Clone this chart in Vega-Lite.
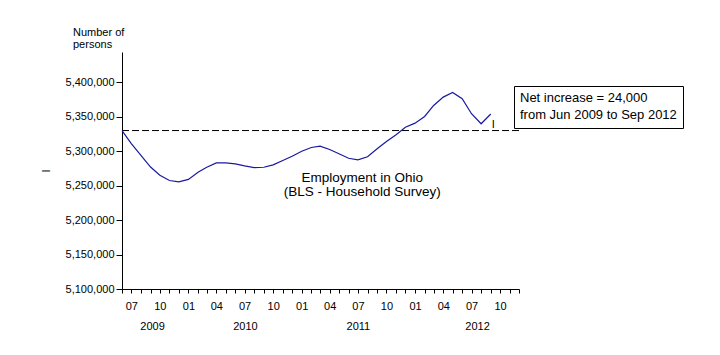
{
  "$schema": "https://vega.github.io/schema/vega-lite/v6.json",
  "width": 397,
  "height": 237,
  "autosize": {"type": "none"},
  "padding": {"left": 122, "top": 52, "right": 201, "bottom": 66},
  "background": "white",
  "config": {
    "font": "Liberation Sans",
    "view": {"stroke": null},
    "axis": {"grid": false, "domainColor": "#000", "tickColor": "#000", "labelColor": "#000", "labelFontSize": 11, "titleColor": "#000", "labelFont": "Liberation Sans"}
  },
  "title": {
    "text": ["Number of", "persons"],
    "anchor": "start",
    "frame": "group",
    "dx": -49,
    "fontSize": 11,
    "fontWeight": "normal",
    "color": "#000",
    "lineHeight": 12,
    "offset": 2
  },
  "layer": [
    {
      "data": {"values": [{}]},
      "mark": {"type": "rule", "strokeDash": [7, 3], "color": "#000", "strokeWidth": 1},
      "encoding": {"y": {"datum": 5330000, "type": "quantitative", "axis": null}}
    },
    {
      "data": {
        "values": [
          {"month": "2009-06-01", "employment": 5330000, "series": "Employment in Ohio"},
          {"month": "2009-07-01", "employment": 5311000, "series": "Employment in Ohio"},
          {"month": "2009-08-01", "employment": 5294000, "series": "Employment in Ohio"},
          {"month": "2009-09-01", "employment": 5277000, "series": "Employment in Ohio"},
          {"month": "2009-10-01", "employment": 5265000, "series": "Employment in Ohio"},
          {"month": "2009-11-01", "employment": 5257500, "series": "Employment in Ohio"},
          {"month": "2009-12-01", "employment": 5255500, "series": "Employment in Ohio"},
          {"month": "2010-01-01", "employment": 5259000, "series": "Employment in Ohio"},
          {"month": "2010-02-01", "employment": 5269500, "series": "Employment in Ohio"},
          {"month": "2010-03-01", "employment": 5276700, "series": "Employment in Ohio"},
          {"month": "2010-04-01", "employment": 5283000, "series": "Employment in Ohio"},
          {"month": "2010-05-01", "employment": 5283000, "series": "Employment in Ohio"},
          {"month": "2010-06-01", "employment": 5281700, "series": "Employment in Ohio"},
          {"month": "2010-07-01", "employment": 5278800, "series": "Employment in Ohio"},
          {"month": "2010-08-01", "employment": 5276300, "series": "Employment in Ohio"},
          {"month": "2010-09-01", "employment": 5276700, "series": "Employment in Ohio"},
          {"month": "2010-10-01", "employment": 5280200, "series": "Employment in Ohio"},
          {"month": "2010-11-01", "employment": 5286500, "series": "Employment in Ohio"},
          {"month": "2010-12-01", "employment": 5292700, "series": "Employment in Ohio"},
          {"month": "2011-01-01", "employment": 5300000, "series": "Employment in Ohio"},
          {"month": "2011-02-01", "employment": 5305400, "series": "Employment in Ohio"},
          {"month": "2011-03-01", "employment": 5307300, "series": "Employment in Ohio"},
          {"month": "2011-04-01", "employment": 5302500, "series": "Employment in Ohio"},
          {"month": "2011-05-01", "employment": 5296200, "series": "Employment in Ohio"},
          {"month": "2011-06-01", "employment": 5289800, "series": "Employment in Ohio"},
          {"month": "2011-07-01", "employment": 5287500, "series": "Employment in Ohio"},
          {"month": "2011-08-01", "employment": 5291900, "series": "Employment in Ohio"},
          {"month": "2011-09-01", "employment": 5303500, "series": "Employment in Ohio"},
          {"month": "2011-10-01", "employment": 5314000, "series": "Employment in Ohio"},
          {"month": "2011-11-01", "employment": 5323800, "series": "Employment in Ohio"},
          {"month": "2011-12-01", "employment": 5334900, "series": "Employment in Ohio"},
          {"month": "2012-01-01", "employment": 5340700, "series": "Employment in Ohio"},
          {"month": "2012-02-01", "employment": 5350400, "series": "Employment in Ohio"},
          {"month": "2012-03-01", "employment": 5366400, "series": "Employment in Ohio"},
          {"month": "2012-04-01", "employment": 5378500, "series": "Employment in Ohio"},
          {"month": "2012-05-01", "employment": 5385300, "series": "Employment in Ohio"},
          {"month": "2012-06-01", "employment": 5376200, "series": "Employment in Ohio"},
          {"month": "2012-07-01", "employment": 5354400, "series": "Employment in Ohio"},
          {"month": "2012-08-01", "employment": 5339800, "series": "Employment in Ohio"},
          {"month": "2012-09-01", "employment": 5354000, "series": "Employment in Ohio"}
        ]
      },
      "mark": {"type": "line", "strokeWidth": 1.2},
      "encoding": {
        "x": {
          "field": "month",
          "type": "temporal",
          "scale": {"type": "utc", "domain": [{"year": 2009, "month": 6, "date": 1, "utc": true}, {"year": 2012, "month": 12, "date": 1, "utc": true}]},
          "axis": {
            "title": null,
            "orient": "bottom",
            "tickCount": {"interval": "month", "step": 1},
            "labelExpr": "utcmonth(datum.value) % 3 == 0 ? utcFormat(datum.value, '%m') : ''",
            "labelOverlap": false,
            "labelFlush": false,
            "labelBound": false,
            "tickSize": 4,
            "labelPadding": 7,
            "labelFontSize": 11
          }
        },
        "y": {
          "field": "employment",
          "type": "quantitative",
          "scale": {"domain": [5100000, 5444000], "nice": false, "zero": false},
          "axis": {
            "values": [5100000, 5150000, 5200000, 5250000, 5300000, 5350000, 5400000],
            "format": ",d",
            "tickSize": 6,
            "labelPadding": 2,
            "title": "I",
            "titleX": -72.5,
            "titleY": 118.5,
            "titleAngle": 270,
            "titleAlign": "center",
            "titleBaseline": "alphabetic",
            "titleFontSize": 11,
            "titleFontWeight": "normal"
          }
        },
        "stroke": {
          "field": "series",
          "type": "nominal",
          "scale": {"range": ["#1a1aa0"]},
          "legend": {
            "orient": "none",
            "legendX": 392,
            "legendY": 34,
            "title": "Net increase = 24,000",
            "titleFontSize": 13,
            "titleFontWeight": "normal",
            "titleColor": "#000",
            "titlePadding": 3,
            "titleLimit": 400,
            "labelExpr": "'from Jun 2009 to Sep 2012'",
            "labelFontSize": 13,
            "labelColor": "#000",
            "labelLimit": 400,
            "labelOffset": -13,
            "symbolSize": 0,
            "symbolStrokeWidth": 0,
            "symbolType": "stroke",
            "strokeColor": "#000",
            "fillColor": "#fff",
            "padding": 6
          }
        }
      }
    },
    {
      "data": {"values": [{}]},
      "mark": {"type": "text", "fontSize": 13.5, "lineHeight": 14, "align": "center", "baseline": "alphabetic", "color": "#000"},
      "encoding": {
        "x": {
          "datum": {"year": 2011, "month": 7, "date": 15, "utc": true},
          "type": "temporal",
          "axis": {
            "title": null,
            "orient": "bottom",
            "values": [
              {"year": 2009, "month": 9, "date": 6, "utc": true},
              {"year": 2010, "month": 7, "date": 2, "utc": true},
              {"year": 2011, "month": 7, "date": 1, "utc": true},
              {"year": 2012, "month": 7, "date": 19, "utc": true}
            ],
            "labelExpr": "utcFormat(datum.value, '%Y')",
            "domain": false,
            "ticks": false,
            "tickSize": 0,
            "labelPadding": 31,
            "labelFontSize": 11,
            "labelOverlap": false,
            "labelFlush": false,
            "labelBound": false
          }
        },
        "y": {"datum": 5255000, "type": "quantitative", "axis": null},
        "text": {"value": ["Employment in Ohio", "(BLS - Household Survey)"]}
      }
    },
    {
      "data": {"values": [{}]},
      "mark": {"type": "text", "text": "I", "fontSize": 11, "align": "center", "baseline": "alphabetic", "color": "#000"},
      "encoding": {
        "x": {"datum": {"year": 2012, "month": 9, "date": 9, "utc": true}, "type": "temporal", "axis": null},
        "y": {"datum": 5333000, "type": "quantitative", "axis": null}
      }
    }
  ],
  "resolve": {"axis": {"x": "independent", "y": "independent"}}
}
